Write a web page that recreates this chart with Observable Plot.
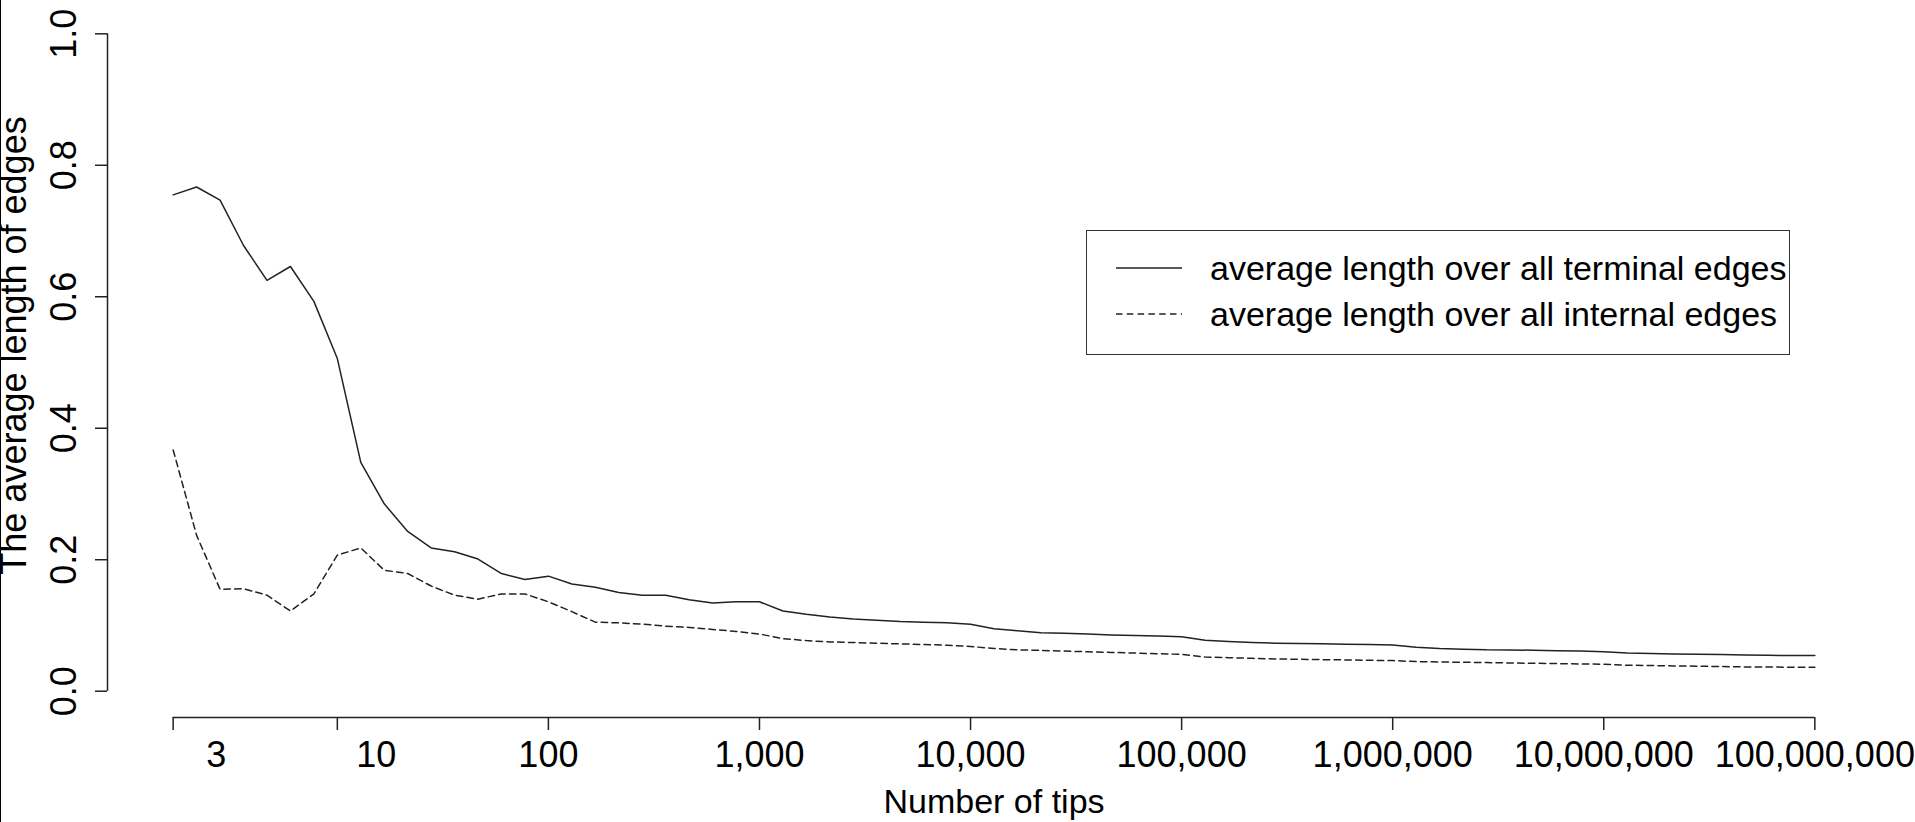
<!DOCTYPE html>
<html><head><meta charset="utf-8">
<script src="https://cdn.jsdelivr.net/npm/d3@7"></script>
<script src="https://cdn.jsdelivr.net/npm/@observablehq/plot@0.6"></script>
<style>
body{margin:0;background:#fff;}
#wrap{position:relative;width:1915px;height:822px;overflow:hidden;font-family:"Liberation Sans",Arial,sans-serif;background:#fff;}
#border{position:absolute;left:0;top:0;width:1px;height:822px;background:#000;}
#legend{position:absolute;left:1086px;top:230px;width:702px;height:123px;border:1.5px solid #333;background:#fff;}
#legend .row{position:absolute;left:0;width:700px;height:40px;}
#legend svg{position:absolute;left:29px;top:0;}
#legend span{position:absolute;left:123px;top:0;line-height:40px;font-size:34px;color:#000;white-space:nowrap;}
</style></head>
<body>
<div id="wrap"><div id="chart"></div><div id="border"></div>
<div id="legend">
 <div class="row" style="top:17px"><svg width="66" height="40"><line x1="0" x2="66" y1="20" y2="20" stroke="#222" stroke-width="1.5"/></svg><span id="l1"></span></div>
 <div class="row" style="top:63px"><svg width="66" height="40"><line x1="0" x2="66" y1="20" y2="20" stroke="#222" stroke-width="1.5" stroke-dasharray="6.5,4.3"/></svg><span id="l2"></span></div>
</div>
</div>
<script>
// Number of tips (categories, plotted at evenly spaced positions)
const nTips = [3,4,5,6,7,8,9,10,
  20,30,40,50,60,70,80,90,100,
  200,300,400,500,600,700,800,900,1000,
  2000,3000,4000,5000,6000,7000,8000,9000,10000,
  20000,30000,40000,50000,60000,70000,80000,90000,100000,
  200000,300000,400000,500000,600000,700000,800000,900000,1000000,
  2000000,3000000,4000000,5000000,6000000,7000000,8000000,9000000,10000000,
  20000000,30000000,40000000,50000000,60000000,70000000,80000000,90000000,100000000];
// average length over all terminal edges
const terminal = [0.755,0.767,0.747,0.678,0.625,0.646,0.593,0.506,0.348,0.285,0.243,
  0.218,0.212,0.201,0.179,0.170,0.175,0.163,0.158,0.150,0.146,
  0.146,0.139,0.134,0.136,0.136,0.122,0.117,0.113,0.110,0.108,
  0.106,0.105,0.104,0.102,0.095,0.092,0.089,0.088,0.087,0.0856,
  0.0846,0.084,0.083,0.0775,0.0755,0.074,0.073,0.0725,0.072,0.0714,
  0.071,0.0704,0.067,0.065,0.064,0.063,0.0628,0.0623,0.0615,0.061,
  0.060,0.058,0.0573,0.0567,0.0562,0.0557,0.0552,0.0547,0.0542,0.0542];
// average length over all internal edges
const internal = [0.367,0.237,0.155,0.156,0.146,0.122,0.148,0.207,0.218,0.184,0.179,
  0.160,0.146,0.140,0.148,0.148,0.136,0.121,0.105,0.104,0.102,
  0.099,0.097,0.094,0.091,0.087,0.080,0.077,0.075,0.074,0.073,
  0.072,0.071,0.070,0.068,0.065,0.063,0.062,0.061,0.060,0.059,
  0.058,0.057,0.056,0.052,0.051,0.050,0.049,0.0486,0.048,0.0476,
  0.047,0.0466,0.045,0.0445,0.044,0.0436,0.043,0.0425,0.042,0.0415,
  0.041,0.0395,0.039,0.0385,0.038,0.0375,0.037,0.0368,0.0365,0.0365];
const seriesNames = ["average length over all terminal edges","average length over all internal edges"];
const xTickValues = [3,10,100,1000,10000,100000,1000000,10000000,100000000];
const xTickLabels = ["3","10","100","1,000","10,000","100,000","1,000,000","10,000,000","100,000,000"];
const yTicks = [0,0.2,0.4,0.6,0.8,1.0];
const yLabel = "The average length of edges";
const xLabel = "Number of tips";

document.getElementById("l1").textContent = seriesNames[0];
document.getElementById("l2").textContent = seriesNames[1];

const idx = v => nTips.indexOf(v);
const termData = terminal.map((v,i)=>({i, v}));
const intData = internal.map((v,i)=>({i, v}));
const xTicks = xTickValues.map((v,k)=>({i: idx(v), label: xTickLabels[k]}));
const n = nTips.length - 1;
const pad = n*0.04;

const chart = Plot.plot({
  width: 1915, height: 822,
  marginLeft: 107, marginRight: 35, marginTop: 7, marginBottom: 105,
  x: {domain: [-pad, n+pad], axis: null},
  y: {domain: [-0.04, 1.04], axis: null},
  style: {fontFamily: "'Liberation Sans', Arial, sans-serif", color: "#000", background: "transparent", overflow: "visible"},
  marks: [
    // y axis
    Plot.ruleX([-pad], {y1: 0, y2: 1, stroke: "#222", strokeWidth: 1.5}),
    Plot.axisY(yTicks, {anchor: "left", tickSize: 12, tickFormat: () => "", label: null, stroke: "#222", strokeWidth: 1.5}),
    Plot.text(yTicks, {y: d=>d, frameAnchor: "left", dx: -43, rotate: -90, text: d=>d.toFixed(1), textAnchor: "middle", lineAnchor: "middle", fontSize: 36, fill: "#000"}),
    Plot.text([yLabel], {frameAnchor: "left", y: [0.5], text: d=>d, dx: -93, dy: -17, rotate: -90, textAnchor: "middle", lineAnchor: "middle", fontSize: 36, fill: "#000"}),
    // x axis
    Plot.ruleY([-0.04], {x1: 0, x2: n, stroke: "#222", strokeWidth: 1.5}),
    Plot.axisX(xTicks.map(d=>d.i), {anchor: "bottom", tickSize: 13, tickFormat: () => "", label: null, stroke: "#222", strokeWidth: 1.5}),
    Plot.text(xTicks.slice(0,1), {x: "i", text: "label", frameAnchor: "bottom", dx: 43, dy: 38, lineAnchor: "middle", fontSize: 36, fill: "#000"}),
    Plot.text(xTicks.slice(1,2), {x: "i", text: "label", frameAnchor: "bottom", dx: 39, dy: 38, lineAnchor: "middle", fontSize: 36, fill: "#000"}),
    Plot.text(xTicks.slice(2), {x: "i", text: "label", frameAnchor: "bottom", dy: 38, lineAnchor: "middle", fontSize: 36, fill: "#000"}),
    Plot.text([xLabel], {frameAnchor: "bottom", text: d=>d, dy: 85, lineAnchor: "middle", fontSize: 34, fill: "#000"}),
    // series
    Plot.line(termData, {x: "i", y: "v", stroke: "#222", strokeWidth: 1.5}),
    Plot.line(intData, {x: "i", y: "v", stroke: "#222", strokeWidth: 1.5, strokeDasharray: "6.5,4.3"})
  ]
});
document.getElementById("chart").appendChild(chart);
</script>
</body></html>
